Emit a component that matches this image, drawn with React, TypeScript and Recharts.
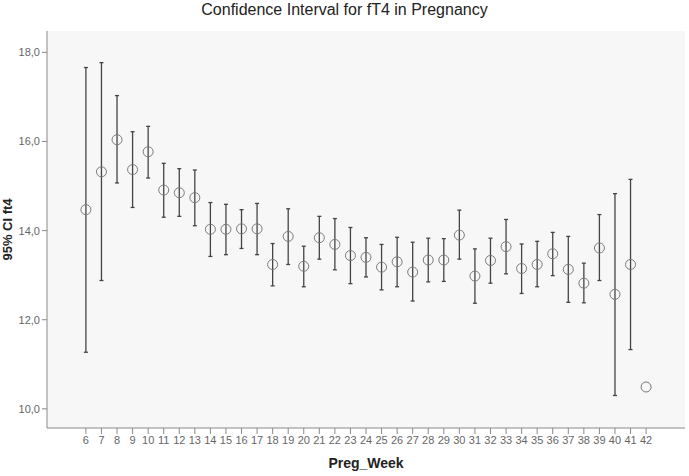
import {
  CartesianGrid,
  ComposedChart,
  ErrorBar,
  Scatter,
  XAxis,
  YAxis,
} from 'recharts'

const weeks = [
  6, 7, 8, 9, 10, 11, 12, 13, 14, 15, 16, 17, 18, 19, 20, 21, 22, 23, 24, 25,
  26, 27, 28, 29, 30, 31, 32, 33, 34, 35, 36, 37, 38, 39, 40, 41, 42,
]

const means = [
  14.47, 15.32, 16.04, 15.37, 15.77, 14.91, 14.85, 14.74, 14.03, 14.03, 14.04,
  14.04, 13.24, 13.87, 13.2, 13.84, 13.69, 13.44, 13.4, 13.18, 13.3, 13.07,
  13.34, 13.34, 13.9, 12.98, 13.33, 13.64, 13.15, 13.24, 13.48, 13.13, 12.82,
  13.61, 12.57, 13.24, 10.49,
]

const upper = [
  17.66, 17.77, 17.03, 16.22, 16.34, 15.51, 15.39, 15.36, 14.63, 14.59, 14.47,
  14.61, 13.71, 14.49, 13.65, 14.32, 14.27, 14.07, 13.84, 13.69, 13.85, 13.74,
  13.83, 13.82, 14.46, 13.59, 13.83, 14.25, 13.7, 13.76, 13.96, 13.87, 13.27,
  14.36, 14.83, 15.15, null,
]

const lower = [
  11.27, 12.88, 15.07, 14.52, 15.18, 14.3, 14.32, 14.11, 13.42, 13.46, 13.6,
  13.46, 12.76, 13.24, 12.74, 13.36, 13.12, 12.81, 12.96, 12.67, 12.74, 12.42,
  12.85, 12.86, 13.36, 12.37, 12.82, 13.03, 12.59, 12.74, 12.99, 12.39, 12.38,
  12.88, 10.3, 11.33, null,
]

const yTicks = [10, 12, 14, 16, 18]

const data = weeks.map((week, i) => {
  const hi = upper[i]
  const lo = lower[i]
  return {
    week,
    mean: means[i],
    ci: hi == null || lo == null ? null : [means[i] - lo, hi - means[i]],
  }
})

const xDomain = [3.5, 44.5]
const yDomain = [9.57, 18.48]

const fmt = (v: number) => v.toFixed(1).replace('.', ',')

const tickFont = {
  fill: '#666',
  fontSize: 11,
  fontFamily: '"Liberation Sans Narrow", "Liberation Sans", Arial, sans-serif',
}

const Ring = (props: any) => (
  <circle
    cx={props.cx}
    cy={props.cy}
    r={5}
    fill='none'
    stroke='#7a7a7a'
    strokeWidth={1}
  />
)

export default function App() {
  return (
    <div
      style={{
        position: 'absolute',
        left: 0,
        top: 0,
        width: 689,
        height: 476,
        background: '#fff',
        fontFamily: '"Liberation Sans", Arial, sans-serif',
      }}
    >
      <div
        style={{
          position: 'absolute',
          left: 0,
          top: 1,
          width: 689,
          textAlign: 'center',
          fontSize: 16,
          color: '#222',
        }}
      >
        Confidence Interval for fT4 in Pregnancy
      </div>
      <ComposedChart
        width={689}
        height={476}
        data={data}
        margin={{ top: 31, right: 4, bottom: 18, left: 7 }}
      >
        <CartesianGrid fill='#f7f7f7' horizontal={false} vertical={false} />
        <XAxis
          dataKey='week'
          type='number'
          domain={xDomain}
          ticks={weeks}
          interval={0}
          allowDataOverflow
          height={30}
          tickSize={6}
          tickMargin={2}
          stroke='#8a8a8a'
          tick={tickFont}
          label={{
            value: 'Preg_Week',
            position: 'bottom',
            offset: 0,
            fill: '#222',
            fontSize: 14,
            fontWeight: 'bold',
          }}
        />
        <XAxis
          xAxisId='top'
          orientation='top'
          type='number'
          domain={xDomain}
          height={0}
          tick={false}
          tickLine={false}
          stroke='#c4c4c4'
        />
        <YAxis
          type='number'
          domain={yDomain}
          ticks={yTicks}
          allowDataOverflow
          width={40}
          tickSize={5}
          tickMargin={2}
          stroke='#8a8a8a'
          tickFormatter={fmt}
          tick={tickFont}
          label={{
            value: '95% CI ft4',
            angle: -90,
            position: 'insideLeft',
            offset: 0,
            fill: '#222',
            fontSize: 13,
            fontWeight: 'bold',
            style: { textAnchor: 'middle' },
          }}
        />
        <YAxis
          yAxisId='right'
          orientation='right'
          type='number'
          domain={yDomain}
          width={0}
          tick={false}
          tickLine={false}
          stroke='#c4c4c4'
        />
        <Scatter dataKey='mean' shape={Ring} isAnimationActive={false}>
          <ErrorBar
            dataKey='ci'
            direction='y'
            width={2}
            stroke='#444'
            strokeWidth={1.3}
            isAnimationActive={false}
          />
        </Scatter>
      </ComposedChart>
    </div>
  )
}
